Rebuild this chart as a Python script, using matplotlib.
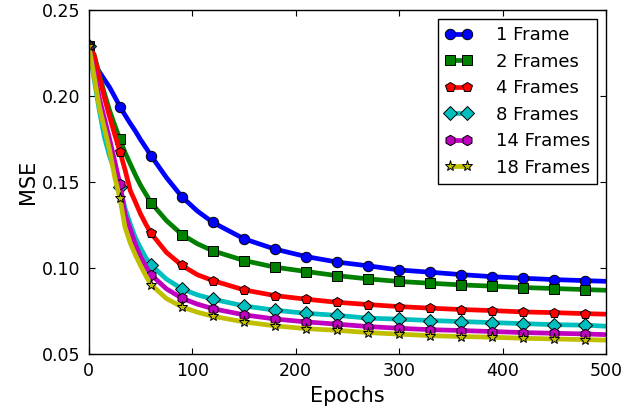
"""MSE vs training epochs for different numbers of input frames."""
import matplotlib
matplotlib.use("Agg")
import matplotlib.pyplot as plt  # noqa: E402
from matplotlib.ticker import FormatStrFormatter  # noqa: E402

EPOCHS = [0, 5, 10, 15, 20, 25, 30, 35, 40, 45, 50, 55, 60, 75, 90, 105, 120,
          150, 180, 210, 240, 270, 300, 330, 360, 390, 420, 450, 480, 500]

MSE_1 = [0.229, 0.2195, 0.2141, 0.2095, 0.205, 0.1995, 0.1938, 0.1888, 0.184,
         0.1795, 0.1745, 0.170, 0.1653, 0.1525, 0.1413, 0.133, 0.1264,
         0.1169, 0.1109, 0.1066, 0.1034, 0.1012, 0.0988, 0.0975, 0.0961,
         0.0949, 0.094, 0.0932, 0.0926, 0.0922]
MSE_2 = [0.229, 0.224, 0.2125, 0.2015, 0.1915, 0.183, 0.1748, 0.167, 0.1605,
         0.154, 0.148, 0.143, 0.138, 0.1275, 0.1194, 0.114, 0.1099,
         0.1043, 0.1004, 0.0979, 0.0955, 0.0936, 0.0921, 0.0911, 0.0901,
         0.0894, 0.0886, 0.088, 0.0874, 0.087]
MSE_4 = [0.229, 0.2238, 0.2112, 0.199, 0.188, 0.1775, 0.1676, 0.157, 0.145,
         0.1383, 0.1313, 0.1255, 0.1202, 0.109, 0.1014, 0.096, 0.0926,
         0.0872, 0.0839, 0.0818, 0.080, 0.0787, 0.0775, 0.0766, 0.0758,
         0.0752, 0.0744, 0.074, 0.0734, 0.0731]
MSE_8 = [0.229, 0.210, 0.192, 0.176, 0.165, 0.156, 0.147, 0.1345, 0.1255,
         0.1175, 0.1115, 0.106, 0.1017, 0.0935, 0.0878, 0.0843, 0.0818,
         0.0779, 0.0754, 0.0736, 0.0724, 0.0708, 0.0702, 0.0694, 0.0688,
         0.0682, 0.0676, 0.067, 0.0667, 0.0661]
MSE_14 = [0.229, 0.215, 0.199, 0.187, 0.175, 0.162, 0.1488, 0.131, 0.1225,
          0.1135, 0.1065, 0.101, 0.0961, 0.0878, 0.0824, 0.0789, 0.0763,
          0.0727, 0.0703, 0.0686, 0.0673, 0.0659, 0.0649, 0.0641, 0.0636,
          0.063, 0.0624, 0.062, 0.0616, 0.0612]
MSE_18 = [0.229, 0.2117, 0.1938, 0.1812, 0.1686, 0.1527, 0.1405, 0.1235,
          0.1145, 0.1075, 0.1013, 0.0955, 0.0903, 0.0822, 0.0773, 0.0742,
          0.0719, 0.0686, 0.0663, 0.0647, 0.0637, 0.0624, 0.0615, 0.0606,
          0.0601, 0.0597, 0.0591, 0.0587, 0.0583, 0.058]

LABELS = ["1 Frame", "2 Frames", "4 Frames", "8 Frames", "14 Frames", "18 Frames"]
COLORS = ["#0000ff", "#008000", "#ff0000", "#00bfbf", "#bf00bf", "#bfbf00"]
MARKERS = ["o", "s", "p", "D", "h", "*"]
SIZES = [7.5, 7, 7.5, 7, 7.5, 8]

plt.rcParams["font.family"] = "DejaVu Sans"

fig = plt.figure(figsize=(6.44, 4.12), dpi=100)
ax = fig.add_axes([0.138, 0.141, 0.803, 0.835])

# markers only every 30 epochs
marks = [i for i, e in enumerate(EPOCHS) if e % 30 == 0]
series = [MSE_1, MSE_2, MSE_4, MSE_8, MSE_14, MSE_18]
for ys, lab, col, mk, ms in zip(series, LABELS, COLORS, MARKERS, SIZES):
    ax.plot(EPOCHS, ys, color=col, lw=3.4, marker=mk, ms=ms,
            markeredgecolor="black", markeredgewidth=0.7,
            markevery=marks, label=lab)

ax.set_xlim(0, 500)
ax.set_ylim(0.05, 0.25)
ax.set_xticks([0, 100, 200, 300, 400, 500])
ax.set_yticks([0.05, 0.10, 0.15, 0.20, 0.25])
ax.yaxis.set_major_formatter(FormatStrFormatter("%.2f"))
ax.tick_params(direction="in", length=4, width=0.8, labelsize=12.5,
               top=True, right=True, pad=6)
for sp in ax.spines.values():
    sp.set_linewidth(1.0)
ax.set_xlabel("Epochs", fontsize=15, labelpad=4)
ax.set_ylabel("MSE", fontsize=15, labelpad=3)

leg = ax.legend(loc="upper right", fontsize=13, numpoints=2, handlelength=1.5,
                fancybox=False, framealpha=1, edgecolor="black",
                borderaxespad=0.5, borderpad=0.4, labelspacing=0.47,
                handletextpad=1.3)
leg.get_frame().set_linewidth(1.0)

fig.savefig("out.png", dpi=100)
